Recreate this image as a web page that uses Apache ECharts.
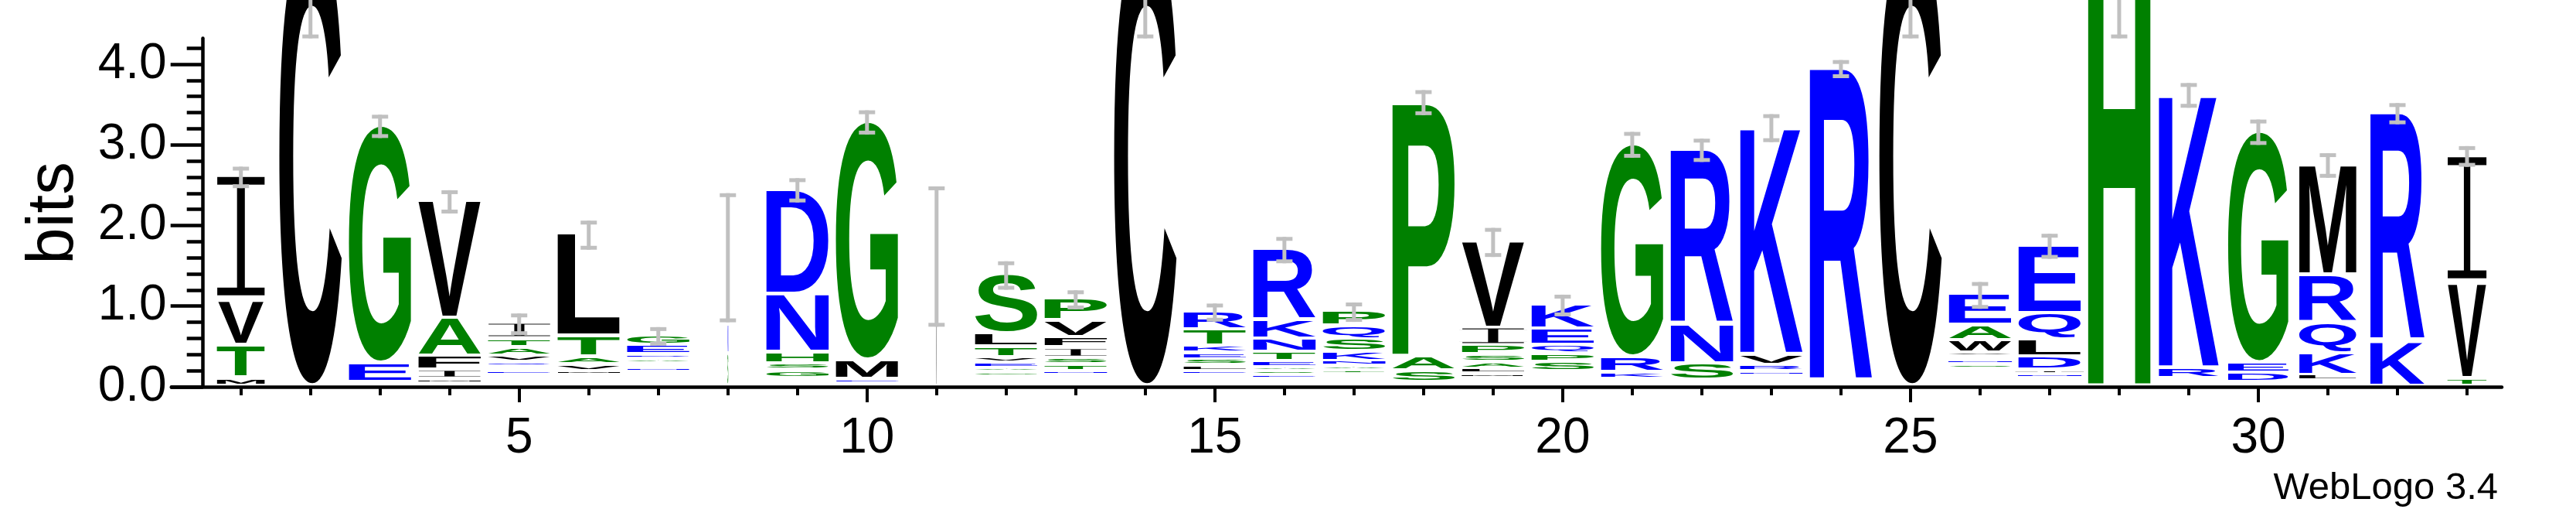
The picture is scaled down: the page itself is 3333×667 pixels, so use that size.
<!DOCTYPE html>
<html>
<head>
<meta charset="utf-8">
<script src="https://cdn.jsdelivr.net/npm/echarts@6.0.0/dist/echarts.min.js"></script>
<style>
html,body{margin:0;padding:0;background:#fff;}
#chart{width:3333px;height:667px;}
</style>
</head>
<body>
<div id="chart"></div>
<script>
// ---------------- data ----------------
const POSITIONS = [1,2,3,4,5,6,7,8,9,10,11,12,13,14,15,16,17,18,19,20,21,22,23,24,25,26,27,28,29,30,31,32,33];

// fraction of the full stack width used by each column (gappy columns are narrower)
const STACK_WIDTH = [0.77,1,1,1,1,1,1,0.012,1,1,0.012,1,1,1,1,1,1,1,1,1,1,1,1,1,1,1,1,1,0.96,0.97,0.92,0.87,0.63];

// letters of each column, bottom to top, with their height in bits
const STACKS = [
  [['M',0.096],['T',0.406],['V',0.585],['I',1.509]],
  [['C',5.63]],
  [['D',0.046],['E',0.235],['G',2.948]],
  [['Y',0.024],['M',0.056],['I',0.112],['F',0.176],['A',0.473],['V',1.452]],
  [['K',0.042],['R',0.042],['N',0.042],['E',0.056],['F',0.045],['Q',0.061],['V',0.08],['A',0.106],['T',0.109],['I',0.192]],
  [['S',0.043],['E',0.043],['K',0.043],['M',0.053],['V',0.08],['A',0.096],['T',0.256],['L',1.266]],
  [['K',0.043],['D',0.043],['Q',0.043],['R',0.042],['N',0.053],['T',0.045],['A',0.058],['D',0.058],['E',0.118],['G',0.122]],
  [['S',0.40],['N',0.368],['V',0.832]],
  [['E',0.047],['K',0.047],['G',0.098],['S',0.086],['H',0.144],['N',0.719],['D',1.295]],
  [['D',0.027],['E',0.053],['M',0.24],['G',2.958]],
  [['V',1.615]],
  [['D',0.037],['Q',0.037],['R',0.036],['G',0.056],['A',0.048],['E',0.067],['V',0.07],['T',0.134],['L',0.163],['S',0.732]],
  [['K',0.044],['E',0.044],['R',0.044],['N',0.05],['T',0.08],['S',0.083],['I',0.128],['F',0.128],['V',0.205],['P',0.272]],
  [['C',5.63]],
  [['Q',0.044],['N',0.044],['D',0.044],['E',0.05],['L',0.067],['S',0.077],['E',0.083],['K',0.086],['T',0.201],['R',0.224]],
  [['D',0.039],['Q',0.039],['E',0.05],['S',0.048],['A',0.048],['E',0.08],['T',0.112],['N',0.16],['K',0.24],['R',0.879]],
  [['E',0.047],['R',0.047],['D',0.047],['T',0.05],['A',0.051],['N',0.061],['K',0.118],['S',0.153],['Q',0.166],['P',0.185]],
  [['T',0.046],['S',0.139],['A',0.182],['P',3.156]],
  [['K',0.047],['E',0.047],['M',0.05],['L',0.061],['A',0.083],['S',0.096],['P',0.118],['I',0.217],['V',1.071]],
  [['N',0.0435],['R',0.0435],['D',0.0435],['T',0.0435],['S',0.12],['P',0.106],['Q',0.106],['E',0.198],['K',0.304]],
  [['N',0.042],['E',0.043],['K',0.082],['R',0.192],['G',2.641]],
  [['D',0.0345],['E',0.0345],['S',0.203],['N',0.489],['R',2.171]],
  [['E',0.039],['Q',0.039],['D',0.039],['N',0.059],['R',0.08],['V',0.134],['K',2.817]],
  [['K',0.046],['R',3.893]],
  [['C',5.63]],
  [['K',0.041],['R',0.041],['N',0.041],['Q',0.041],['D',0.042],['S',0.056],['N',0.048],['G',0.045],['V',0.048],['W',0.157],['A',0.192],['E',0.381]],
  [['K',0.047],['R',0.047],['N',0.048],['I',0.056],['D',0.16],['L',0.217],['Q',0.326],['E',0.841]],
  [['H',5.75]],
  [['E',0.046],['Q',0.045],['R',0.133],['K',3.389]],
  [['N',0.046],['D',0.114],['E',0.128],['G',2.868]],
  [['E',0.03],['D',0.029],['L',0.075],['K',0.272],['Q',0.377],['R',0.592],['M',1.369]],
  [['K',0.55],['R',2.836]],
  [['T',0.09],['V',1.215],['I',1.551]]
];

// half height of the error bar of each column, in bits
const ERR_HALF = [0.133,1.31,0.144,0.144,0.134,0.18,0.115,0.80,0.15,0.15,0.87,0.176,0.118,1.31,0.112,0.163,0.12,0.155,0.18,0.134,0.16,0.144,0.173,0.112,1.31,0.166,0.155,1.43,0.153,0.157,0.152,0.131,0.128];

const Y_MAJOR = [0,1,2,3,4];
const Y_MINOR = [0.2,0.4,0.6,0.8,1.2,1.4,1.6,1.8,2.2,2.4,2.6,2.8,3.2,3.4,3.6,3.8,4.2];
const X_TICKS = [1,2,3,4,5,6,7,8,9,10,11,12,13,14,15,16,17,18,19,20,21,22,23,24,25,26,27,28,29,30,31,32,33];
const X_MAJOR = [5,10,15,20,25,30];
const Y_MAX = 4.3219;

// ---------------- styling ----------------
const BLUE = '#0000ff', GREEN = '#008000', BLACK = '#000000', GRAY = '#c0c0c0';
const GROUP_BLUE = 'RKDENQ', GROUP_GREEN = 'SGHTAP';
function letterColor(ch){
  if (GROUP_BLUE.indexOf(ch) >= 0) return BLUE;
  if (GROUP_GREEN.indexOf(ch) >= 0) return GREEN;
  return BLACK;
}
const GAP_PX = 4.5;
const FULL_W = 0.897;
const I_ERODE = 3.8;   // thins the serif "I" glyph (local units at 200px)

const measureCanvas = document.createElement('canvas');
const mctx = measureCanvas.getContext('2d');
const metricCache = {};
function glyphMetrics(ch){
  if (metricCache[ch]) return metricCache[ch];
  const isI = ch === 'I';
  const font = isI ? '200px "DejaVu Sans Mono"' : 'bold 200px "Liberation Sans"';
  mctx.font = font;
  mctx.textAlign = 'left';
  mctx.textBaseline = 'middle';
  const m = mctx.measureText(ch);
  const e = isI ? I_ERODE : 0;
  const r = {font, erode: e,
    L: m.actualBoundingBoxLeft - e, R: m.actualBoundingBoxRight - e,
    A: m.actualBoundingBoxAscent - e, D: m.actualBoundingBoxDescent - e};
  metricCache[ch] = r;
  return r;
}

// flatten stacks into letter items
const ITEMS = [];
const TOTALS = [];
STACKS.forEach((stack, i) => {
  let cum = 0;
  stack.forEach(([ch, h]) => {
    ITEMS.push({x: POSITIONS[i], y0: cum, y1: cum + h, ch, w: STACK_WIDTH[i]});
    cum += h;
  });
  TOTALS.push(cum);
});

function renderLetter(params, api){
  const it = ITEMS[params.dataIndex];
  const pBot = api.coord([it.x, it.y0]);
  const pTop = api.coord([it.x, it.y1]);
  const unit = api.size([1, 0])[0];
  const w = unit * FULL_W * it.w;
  const bottom = pBot[1] - GAP_PX;
  const top = pTop[1];
  const h = bottom - top;
  if (h <= 0.15) return null;
  const m = glyphMetrics(it.ch);
  const sx = w / (m.L + m.R);
  const sy = h / (m.A + m.D);
  const tx = pBot[0] - w / 2 + sx * m.L;
  const ty = top + sy * m.A;
  const base = {
    type: 'text', x: tx, y: ty, scaleX: sx, scaleY: sy, silent: true,
    style: {text: it.ch, font: m.font, fill: letterColor(it.ch), align: 'left', verticalAlign: 'middle'}
  };
  if (!m.erode) return base;
  return {type: 'group', silent: true, children: [
    base,
    {type: 'text', x: tx, y: ty, scaleX: sx, scaleY: sy, silent: true,
     style: {text: it.ch, font: m.font, fill: 'none', stroke: '#ffffff', lineWidth: m.erode * 2,
             lineJoin: 'miter', align: 'left', verticalAlign: 'middle'}}
  ]};
}

function renderErr(params, api){
  const i = params.dataIndex;
  const pHi = api.coord([POSITIONS[i], TOTALS[i] + ERR_HALF[i]]);
  const pLo = api.coord([POSITIONS[i], TOTALS[i] - ERR_HALF[i]]);
  const cx = pHi[0];
  return {type: 'group', silent: true, children: [
    {type: 'rect', shape: {x: cx - 2.5, y: pHi[1], width: 5, height: pLo[1] - pHi[1]}, style: {fill: GRAY}},
    {type: 'rect', shape: {x: cx - 10.5, y: pHi[1], width: 21, height: 5}, style: {fill: GRAY}},
    {type: 'rect', shape: {x: cx - 10.5, y: pLo[1] - 5, width: 21, height: 5}, style: {fill: GRAY}}
  ]};
}

const FONT = '"Liberation Sans", Arial, sans-serif';

const chart = echarts.init(document.getElementById('chart'), null, {renderer: 'canvas'});
chart.setOption({
  animation: false,
  backgroundColor: '#ffffff',
  grid: {left: 221.7, right: 96, top: 49.4, bottom: 167, containLabel: false, outerBoundsMode: 'none'},
  xAxis: [
    {type: 'value', min: 0, max: 33.5, position: 'bottom',
     axisLine: {show: true, onZero: false, lineStyle: {color: BLACK, width: 4.5}},
     axisTick: {show: true, customValues: X_TICKS, length: 11, lineStyle: {color: BLACK, width: 4}},
     axisLabel: {show: false}, splitLine: {show: false}},
    {type: 'value', min: 0, max: 33.5, position: 'bottom',
     axisLine: {show: false, onZero: false},
     axisTick: {show: true, customValues: X_MAJOR, length: 20, lineStyle: {color: BLACK, width: 4}},
     axisLabel: {show: true, customValues: X_MAJOR, margin: 35, fontSize: 64, fontFamily: FONT, color: BLACK},
     splitLine: {show: false}}
  ],
  yAxis: [
    {type: 'value', min: 0, max: Y_MAX, position: 'left', offset: -41,
     axisLine: {show: true, onZero: false, lineStyle: {color: BLACK, width: 4.5}},
     axisTick: {show: true, customValues: Y_MAJOR, length: 42, lineStyle: {color: BLACK, width: 4.5}},
     axisLabel: {show: true, customValues: Y_MAJOR, margin: 47, fontSize: 64, fontFamily: FONT, color: BLACK,
                 formatter: v => Number(v).toFixed(1)},
     splitLine: {show: false}},
    {type: 'value', min: 0, max: Y_MAX, position: 'left', offset: -41,
     axisLine: {show: false, onZero: false},
     axisTick: {show: true, customValues: Y_MINOR, length: 21, lineStyle: {color: BLACK, width: 4.5}},
     axisLabel: {show: false}, splitLine: {show: false}}
  ],
  graphic: [
    {type: 'text', x: 70.5, y: 275.5, rotation: Math.PI / 2, silent: true,
     style: {text: 'bits', font: '85px ' + FONT, fill: BLACK, textAlign: 'center', textVerticalAlign: 'middle', align: 'center', verticalAlign: 'middle'}},
    {type: 'text', x: 3232, y: 631, silent: true,
     style: {text: 'WebLogo 3.4', font: '49px ' + FONT, fill: BLACK, textAlign: 'right', textVerticalAlign: 'middle', align: 'right', verticalAlign: 'middle'}}
  ],
  series: [
    {type: 'custom', name: 'letters', xAxisIndex: 0, yAxisIndex: 0, clip: false,
     renderItem: renderLetter,
     encode: {x: 0, y: [1, 2]},
     data: ITEMS.map(it => [it.x, it.y0, it.y1]), z: 2},
    {type: 'custom', name: 'errors', xAxisIndex: 0, yAxisIndex: 0, clip: false,
     renderItem: renderErr,
     encode: {x: 0, y: [1, 2]},
     data: POSITIONS.map((p, i) => [p, TOTALS[i] - ERR_HALF[i], TOTALS[i] + ERR_HALF[i]]), z: 3}
  ]
});
</script>
</body>
</html>
